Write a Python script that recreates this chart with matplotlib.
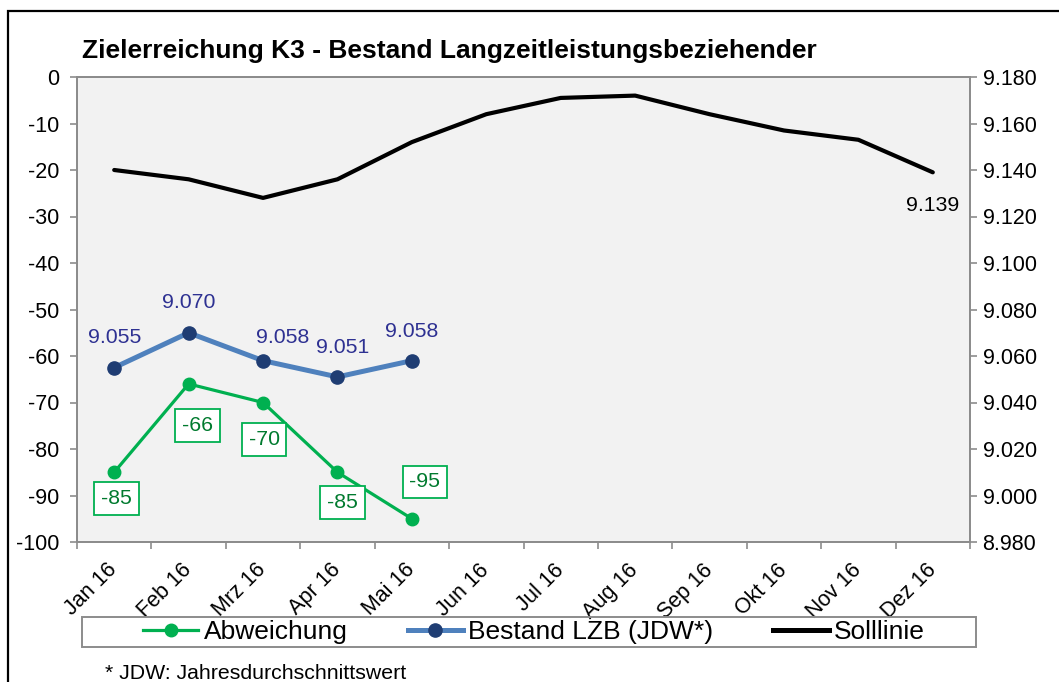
import matplotlib.pyplot as plt
import matplotlib.patches as patches
from matplotlib.lines import Line2D
from matplotlib.ticker import FuncFormatter
import numpy as np

plt.rcParams['font.family'] = ['Liberation Sans', 'DejaVu Sans']
plt.rcParams['axes.unicode_minus'] = False

# Daten
monate = ['Jan 16', 'Feb 16', 'Mrz 16', 'Apr 16', 'Mai 16', 'Jun 16',
          'Jul 16', 'Aug 16', 'Sep 16', 'Okt 16', 'Nov 16', 'Dez 16']
abweichung = [-85, -66, -70, -85, -95]
bestand = [9055, 9070, 9058, 9051, 9058]
solllinie = [9140, 9136, 9128, 9136, 9152, 9164, 9171, 9172, 9164, 9157, 9153, 9139]

W, H = 1059, 682
fig = plt.figure(figsize=(W / 100, H / 100), dpi=100)
fig.patch.set_facecolor('white')

# Rahmen um das Diagramm
fig.patches.append(patches.Rectangle((8 / W, -0.05), 1.2, (H - 11) / H + 0.05,
                                     transform=fig.transFigure, fill=False,
                                     edgecolor='black', linewidth=1.6))

ax = fig.add_axes([77 / W, 140 / H, 893 / W, 465 / H])
ax2 = ax.twinx()

grau = '#8c8c8c'
x = np.arange(len(monate))

# Solllinie und Bestand auf rechter Achse
ax2.plot(x, solllinie, color='black', linewidth=3, solid_capstyle='round', zorder=3)
ax2.plot(x[:len(bestand)], bestand, color='#4f81bd', linewidth=3.6,
         marker='o', markersize=9.5, markerfacecolor='#1f3d73',
         markeredgecolor='#1f3d73', zorder=4)
# Abweichung auf linker Achse (vorne)
ax.set_zorder(ax2.get_zorder() + 1)
ax.patch.set_visible(False)
ax2.patch.set_visible(True)
ax2.patch.set_facecolor('#f2f2f2')
ax.plot(x[:len(abweichung)], abweichung, color='#00b050', linewidth=2.3,
        marker='o', markersize=9, zorder=5)

# Beschriftungen (Versatz in Punkten, wie im Original verschoben)
off_bestand = [(0, 22), (0, 22), (14, 17), (4, 21), (0, 21)]
for i, v in enumerate(bestand):
    ax2.annotate(f'{v:,}'.replace(',', '.'), (x[i], v), xytext=off_bestand[i],
                 textcoords='offset points', ha='center', va='center',
                 fontsize=15.3, color='#2e3192')

off_abw = [(1.5, -19), (6.5, -30), (0.7, -26.6), (3.6, -21.6), (9.4, 26.6)]
for i, v in enumerate(abweichung):
    ax.annotate(str(v), (x[i], v), xytext=off_abw[i],
                textcoords='offset points', ha='center', va='center',
                fontsize=15.3, color='#007a2e',
                bbox=dict(boxstyle='square,pad=0.32', facecolor='white',
                          edgecolor='#00b050', linewidth=1.3), zorder=6)

ax2.annotate(f'{solllinie[-1]:,}'.replace(',', '.'), (x[-1], solllinie[-1]),
             xytext=(0, -24), textcoords='offset points', ha='center',
             va='center', fontsize=15.3, color='black')

# Achsen
ax.set_xlim(-0.5, len(monate) - 0.5)
ax.set_ylim(-100, 0)
ax.set_yticks(np.arange(-100, 1, 10))
ax2.set_ylim(8980, 9180)
ax2.set_yticks(np.arange(8980, 9181, 20))
ax2.yaxis.set_major_formatter(FuncFormatter(lambda v, p: f'{v:,.0f}'.replace(',', '.')))

ax.set_xticks(x)
ax.set_xticklabels(monate, rotation=45, ha='right', va='center',
                   rotation_mode='anchor')
ax.set_xticks(np.arange(-0.5, len(monate)), minor=True)
ax.tick_params(axis='x', which='major', length=0, pad=18, labelsize=15.5)
ax.tick_params(axis='x', which='minor', length=5, width=1.2, color=grau)
ax.tick_params(axis='y', length=5, width=1.2, color=grau, pad=8, labelsize=15.5)
ax2.tick_params(axis='y', length=5, width=1.2, color=grau, pad=4, labelsize=15.5)

for a in (ax, ax2):
    for s in a.spines.values():
        s.set_color(grau)
        s.set_linewidth(1.3)

# Titel
fig.text(82 / W, (H - 58) / H, 'Zielerreichung K3 - Bestand Langzeitleistungsbeziehender',
         fontsize=19, fontweight='bold', ha='left', va='baseline')

# Legende
handles = [
    Line2D([], [], color='#00b050', linewidth=2.3, marker='o', markersize=9),
    Line2D([], [], color='#4f81bd', linewidth=3.6, marker='o', markersize=9.5,
           markerfacecolor='#1f3d73', markeredgecolor='#1f3d73'),
    Line2D([], [], color='black', linewidth=3.6),
]
fig.patches.append(patches.Rectangle((82 / W, (H - 647) / H), (976 - 82) / W, 30 / H,
                                     transform=fig.transFigure, fill=False,
                                     edgecolor=grau, linewidth=1.4))
fig.legend(handles, ['Abweichung', 'Bestand LZB (JDW*)', 'Solllinie'],
           loc='center', ncol=3, mode='expand', frameon=False, fontsize=19,
           handlelength=2.1, handletextpad=0.2, borderpad=0, borderaxespad=0,
           bbox_to_anchor=(143 / W, (H - 647) / H, (925 - 143) / W, 30 / H))

fig.text(105 / W, (H - 679) / H, '* JDW: Jahresdurchschnittswert', fontsize=15.3,
         ha='left', va='baseline')

fig.savefig('out.png', dpi=100)
